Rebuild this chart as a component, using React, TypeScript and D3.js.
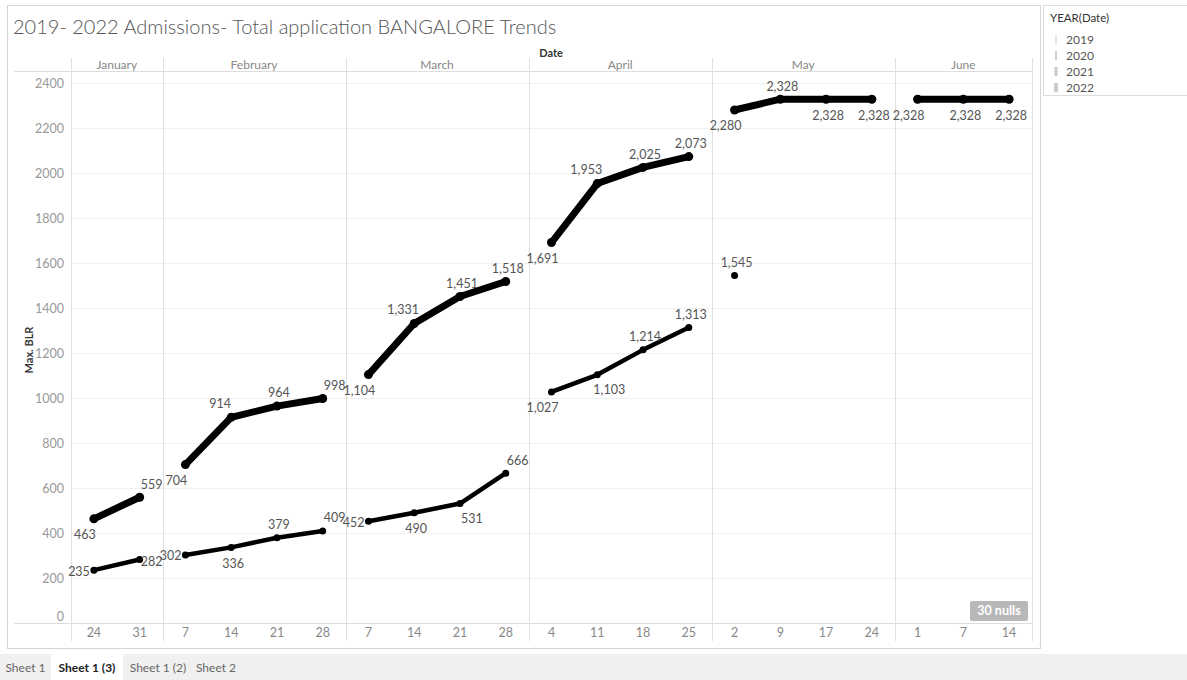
import { useRef, useEffect } from "react";
import * as d3 from "d3";

// month panes and their week columns
const months = ["January", "February", "March", "April", "May", "June"];
const weekTicks = [
  ["24", "31"],
  ["7", "14", "21", "28"],
  ["7", "14", "21", "28"],
  ["4", "11", "18", "25"],
  ["2", "9", "17", "24"],
  ["1", "7", "14"],
];

// Max. BLR per week, one list per month (null = no mark)
const upperValues = [
  [463, 559],
  [704, 914, 964, 998],
  [1104, 1331, 1451, 1518],
  [1691, 1953, 2025, 2073],
  [2280, 2328, 2328, 2328],
  [2328, 2328, 2328],
];
const lowerValues = [
  [235, 282],
  [302, 336, 379, 409],
  [452, 490, 531, 666],
  [1027, 1103, 1214, 1313],
  [1545, null, null, null],
  [null, null, null],
];

// where Tableau put each mark label
const upperLabelPos = [
  ["bl", "ar"],
  ["bl", "al", "a", "ar"],
  ["bl", "al", "a", "a"],
  ["bl", "al", "a", "a"],
  ["bl", "a", "b", "b"],
  ["bl", "b", "b"],
];
const lowerLabelPos = [
  ["l", "r"],
  ["l", "b", "a", "ar"],
  ["l", "b", "br", "ar"],
  ["bl", "br", "a", "a"],
  ["a", "", "", ""],
  ["", "", ""],
];

const yTicks = d3.range(0, 2401, 200);
const legendYears = ["2019", "2020", "2021", "2022"];
const sheetTabs = ["Sheet 1", "Sheet 1 (3)", "Sheet 1 (2)", "Sheet 2"];

const W = 1187;
const H = 680;
const FONT = "Lato, 'Open Sans', sans-serif";

const offsets: Record<string, [number, number, string]> = {
  a: [2, -13, "middle"],
  b: [2, 16, "middle"],
  al: [-11, -14, "middle"],
  ar: [12, -13, "middle"],
  bl: [-9, 16, "middle"],
  br: [12, 15, "middle"],
  l: [-4, 1, "end"],
  r: [1, 2, "start"],
};

export default function App() {
  const ref = useRef<SVGSVGElement>(null);

  useEffect(() => {
    if (!ref.current) return;
    const svg = d3.select(ref.current);
    svg.selectAll("*").remove();

    const left = 71;
    const right = 1032;
    const yBottom = 623;
    const yTop = 83;

    const keys: string[] = [];
    weekTicks.forEach((ws, mi) => ws.forEach((w) => keys.push(`${mi}-${w}`)));

    const x = d3.scaleBand<string>().domain(keys).range([left, right]);
    const y = d3.scaleLinear().domain([0, 2400]).range([yBottom, yTop]);

    // outer frame
    svg
      .append("rect")
      .attr("x", 7.5)
      .attr("y", 5.5)
      .attr("width", 1033)
      .attr("height", 643)
      .attr("fill", "#fff")
      .attr("stroke", "#d4d4d4");

    svg
      .append("text")
      .attr("x", 13)
      .attr("y", 34)
      .attr("font-family", FONT)
      .attr("font-size", 20)
      .attr("font-weight", 300)
      .attr("fill", "#555")
      .text("2019- 2022 Admissions- Total application BANGALORE Trends");

    svg
      .append("text")
      .attr("x", 551)
      .attr("y", 57)
      .attr("text-anchor", "middle")
      .attr("font-family", FONT)
      .attr("font-size", 11)
      .attr("font-weight", 700)
      .attr("fill", "#333")
      .text("Date");

    // horizontal gridlines
    svg
      .append("g")
      .selectAll("line")
      .data(yTicks.slice(1))
      .join("line")
      .attr("x1", left)
      .attr("x2", right)
      .attr("y1", (d) => y(d) + 0.5)
      .attr("y2", (d) => y(d) + 0.5)
      .attr("stroke", "#f0f0f0");

    // header and axis rules
    svg
      .append("line")
      .attr("x1", 14)
      .attr("x2", right)
      .attr("y1", 71.5)
      .attr("y2", 71.5)
      .attr("stroke", "#ddd");
    svg
      .append("line")
      .attr("x1", 14)
      .attr("x2", right)
      .attr("y1", yBottom + 0.5)
      .attr("y2", yBottom + 0.5)
      .attr("stroke", "#ddd");

    // month pane separators
    const paneEdges = months.map((_, mi) => x(`${mi}-${weekTicks[mi][0]}`) as number);
    paneEdges.push(right);
    svg
      .append("g")
      .selectAll("line")
      .data(paneEdges)
      .join("line")
      .attr("x1", (d) => Math.round(d) + 0.5)
      .attr("x2", (d) => Math.round(d) + 0.5)
      .attr("y1", 58)
      .attr("y2", 641)
      .attr("stroke", "#e0e0e0");

    // month headers
    svg
      .append("g")
      .selectAll("text")
      .data(months)
      .join("text")
      .attr("x", (_, i) => (paneEdges[i] + paneEdges[i + 1]) / 2)
      .attr("y", 69)
      .attr("text-anchor", "middle")
      .attr("font-family", FONT)
      .attr("font-size", 12)
      .attr("fill", "#888")
      .text((d) => d);

    // week tick labels
    svg
      .append("g")
      .selectAll("text")
      .data(keys)
      .join("text")
      .attr("x", (d) => (x(d) as number) + x.bandwidth() / 2)
      .attr("y", 637)
      .attr("text-anchor", "middle")
      .attr("font-family", FONT)
      .attr("font-size", 12.5)
      .attr("fill", "#888")
      .text((d) => d.split("-")[1]);

    // y axis
    const yAxis = svg
      .append("g")
      .attr("transform", `translate(${left - 4},0)`)
      .call(d3.axisLeft(y).tickValues(yTicks).tickSize(0).tickFormat(d3.format("d")));
    yAxis.select(".domain").remove();
    yAxis
      .selectAll("text")
      .attr("font-family", FONT)
      .attr("font-size", 12.5)
      .attr("fill", "#999")
      .attr("dy", (d) => ((d as number) === 0 ? "-0.2em" : "0.32em"));

    svg
      .append("text")
      .attr("transform", `translate(33,${350}) rotate(-90)`)
      .attr("text-anchor", "middle")
      .attr("font-family", FONT)
      .attr("font-size", 11)
      .attr("font-weight", 700)
      .attr("fill", "#333")
      .text("Max. BLR");

    // series
    const drawSeries = (
      values: (number | null)[][],
      pos: string[][],
      width: number,
      r: number
    ) => {
      const g = svg.append("g");
      const line = d3
        .line<{ k: string; v: number | null }>()
        .defined((d) => d.v !== null)
        .x((d) => (x(d.k) as number) + x.bandwidth() / 2)
        .y((d) => y(d.v as number));
      values.forEach((vals, mi) => {
        const pts = vals.map((v, wi) => ({ k: `${mi}-${weekTicks[mi][wi]}`, v, p: pos[mi][wi] }));
        g.append("path")
          .datum(pts)
          .attr("d", line)
          .attr("fill", "none")
          .attr("stroke", "#000")
          .attr("stroke-width", width)
          .attr("stroke-linecap", "round")
          .attr("stroke-linejoin", "round");
        const present = pts.filter((p) => p.v !== null);
        g.selectAll(null)
          .data(present)
          .join("circle")
          .attr("cx", (d) => (x(d.k) as number) + x.bandwidth() / 2)
          .attr("cy", (d) => y(d.v as number))
          .attr("r", r)
          .attr("fill", "#000");
        g.selectAll(null)
          .data(present)
          .join("text")
          .attr("x", (d) => (x(d.k) as number) + x.bandwidth() / 2 + offsets[d.p][0])
          .attr("y", (d) => y(d.v as number) + offsets[d.p][1])
          .attr("dy", "0.35em")
          .attr("text-anchor", (d) => offsets[d.p][2])
          .attr("font-family", FONT)
          .attr("font-size", 12.5)
          .attr("fill", "#555")
          .text((d) => d3.format(",")(d.v as number));
      });
    };
    drawSeries(lowerValues, lowerLabelPos, 4.5, 3.5);
    drawSeries(upperValues, upperLabelPos, 7, 4.5);

    // nulls badge
    svg
      .append("rect")
      .attr("x", 970)
      .attr("y", 601)
      .attr("width", 58)
      .attr("height", 20)
      .attr("rx", 2)
      .attr("fill", "#b8b8b8");
    svg
      .append("text")
      .attr("x", 999)
      .attr("y", 615)
      .attr("text-anchor", "middle")
      .attr("font-family", FONT)
      .attr("font-size", 12.5)
      .attr("font-weight", 700)
      .attr("fill", "#fff")
      .text("30 nulls");

    // legend
    svg
      .append("rect")
      .attr("x", 1043.5)
      .attr("y", 5.5)
      .attr("width", 150)
      .attr("height", 90)
      .attr("fill", "#fff")
      .attr("stroke", "#ddd");
    svg
      .append("text")
      .attr("x", 1050)
      .attr("y", 22)
      .attr("font-family", FONT)
      .attr("font-size", 11.5)
      .attr("fill", "#333")
      .text("YEAR(Date)");
    const leg = svg
      .append("g")
      .selectAll("g")
      .data(legendYears)
      .join("g")
      .attr("transform", (_, i) => `translate(1056,${40 + i * 16})`);
    leg
      .append("rect")
      .attr("x", (_, i) => -(i + 1) / 2)
      .attr("y", -5)
      .attr("width", (_, i) => i + 1)
      .attr("height", 9)
      .attr("fill", "#ccc");
    leg
      .append("text")
      .attr("x", 10)
      .attr("y", 4)
      .attr("font-family", FONT)
      .attr("font-size", 12)
      .attr("fill", "#555")
      .text((d) => d);

    // sheet tabs
    svg
      .append("rect")
      .attr("x", 0)
      .attr("y", 654)
      .attr("width", W)
      .attr("height", 26)
      .attr("fill", "#f0f0f0");
    const tabX = [0, 51, 123, 193];
    const tabW = [51, 72, 70, 46];
    svg
      .append("rect")
      .attr("x", tabX[1])
      .attr("y", 654)
      .attr("width", tabW[1])
      .attr("height", 26)
      .attr("fill", "#fff");
    svg
      .append("g")
      .selectAll("text")
      .data(sheetTabs)
      .join("text")
      .attr("x", (_, i) => tabX[i] + tabW[i] / 2)
      .attr("y", 672)
      .attr("text-anchor", "middle")
      .attr("font-family", FONT)
      .attr("font-size", 12)
      .attr("font-weight", (_, i) => (i === 1 ? 700 : 400))
      .attr("fill", (_, i) => (i === 1 ? "#222" : "#666"))
      .text((d) => d);
  }, []);

  return (
    <svg
      ref={ref}
      width={W}
      height={H}
      style={{ position: "fixed", left: 0, top: 0, background: "#fff" }}
    />
  );
}
